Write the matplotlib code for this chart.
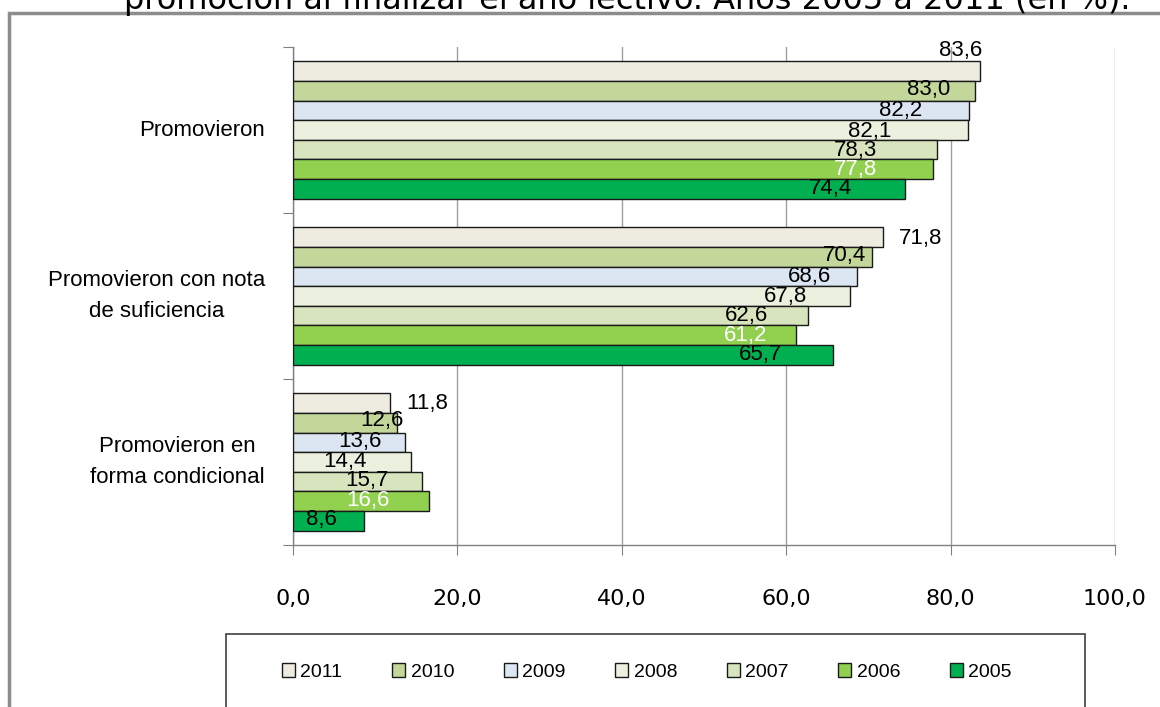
import matplotlib
matplotlib.use("Agg")
import matplotlib.pyplot as plt
from matplotlib.patches import Rectangle

categories = ["Promovieron", "Promovieron con nota\nde suficiencia", "Promovieron en\nforma condicional"]
years = ["2011", "2010", "2009", "2008", "2007", "2006", "2005"]
values = {
    "2011": [83.6, 71.8, 11.8],
    "2010": [83.0, 70.4, 12.6],
    "2009": [82.2, 68.6, 13.6],
    "2008": [82.1, 67.8, 14.4],
    "2007": [78.3, 62.6, 15.7],
    "2006": [77.8, 61.2, 16.6],
    "2005": [74.4, 65.7, 8.6],
}
colors = ["#EEECE1", "#C4D79B", "#DCE6F2", "#EBF1DE", "#D7E4BD", "#92D050", "#00B050"]
xticks = [0, 20, 40, 60, 80, 100]

# label nudges in pixels (dx, dy) relative to bar end / bar centre
label_nudge = {
    "2011": [(-20, 21), (37, -1), (37, 0)],
    "2010": [(-47, 1), (-27, 1), (-15, 2)],
    "2009": [(-68, 0), (-47, 0), (-45, 1)],
    "2008": [(-98, -1), (-65, 0), (-66, 1)],
    "2007": [(-81, -1), (-61, 0), (-55, 1)],
    "2006": [(-77, 0), (-51, 0), (-62, 1)],
    "2005": [(-74, 0), (-73, 0), (-42, 1)],
}

sans = ["Liberation Sans", "DejaVu Sans"]

fig = plt.figure(figsize=(11.6, 7.07), dpi=100)
ax = fig.add_axes([0.2526, 0.2291, 0.7086, 0.7044])

bar_h = 0.118
n = len(years)
centers = [2, 1, 0]  # top to bottom
handles = []
for j, yr in enumerate(years):
    ys = [c + (n - 1) / 2 * bar_h - j * bar_h for c in centers]
    b = ax.barh(ys, values[yr], height=bar_h, color=colors[j], edgecolor="#1a1a1a",
                linewidth=1.0, label=yr, zorder=3)
    handles.append(b)
    for k, (y, v) in enumerate(zip(ys, values[yr])):
        txt = f"{v:.1f}".replace(".", ",")
        col = "white" if yr == "2006" else "black"
        ax.annotate(txt, (v, y), xytext=label_nudge[yr][k], textcoords="offset pixels",
                    ha="center", va="center", fontsize=16, color=col, family=sans, zorder=5)

ax.set_xlim(0, 100)
ax.set_ylim(-0.5, 2.5)
ax.set_xticks(xticks)
ax.set_xticklabels([f"{t:.1f}".replace(".", ",") for t in xticks], fontsize=16)
ax.tick_params(axis="x", length=7, color="#808080", pad=25)
ax.set_yticks([-0.5, 0.5, 1.5, 2.5])
ax.set_yticklabels([])
ax.tick_params(axis="y", which="major", length=7, color="#808080")
for c, name in zip(centers, categories):
    ax.text(-28 / 822, c, name, transform=ax.get_yaxis_transform(), ha="right", va="center",
            multialignment="center", fontsize=16, family=sans, linespacing=1.6)
ax.grid(axis="x", color="#a0a0a0", linewidth=1.0, zorder=0)
for s in ["top", "right"]:
    ax.spines[s].set_visible(False)
for s in ["left", "bottom"]:
    ax.spines[s].set_color("#808080")
    ax.spines[s].set_linewidth(1.0)

# outer chart frame
fig.patches.append(Rectangle((9 / 1160, -0.1), 1.2, 1 - 13 / 707 + 0.1, transform=fig.transFigure,
                             fill=False, edgecolor="#8c8c8c", linewidth=2.5))
# legend frame
fig.patches.append(Rectangle((226 / 1160, -0.1), (1085 - 226) / 1160, 1 - 634 / 707 + 0.1,
                             transform=fig.transFigure, fill=False, edgecolor="#404040", linewidth=1.2))

fig.text(627 / 1160, 1 - 9 / 707, "promoción al finalizar el año lectivo. Años 2005 a 2011 (en %).",
         ha="center", va="baseline", fontsize=23)

leg = fig.legend(handles=handles, labels=years, loc="center left",
                 bbox_to_anchor=(282 / 1160, 1 - 672 / 707), ncol=7, frameon=False,
                 prop={"family": sans, "size": 14}, handlelength=0.67, handleheight=0.72,
                 handletextpad=0.28, columnspacing=2.55, borderpad=0, borderaxespad=0)

fig.savefig("out.png", dpi=100)
